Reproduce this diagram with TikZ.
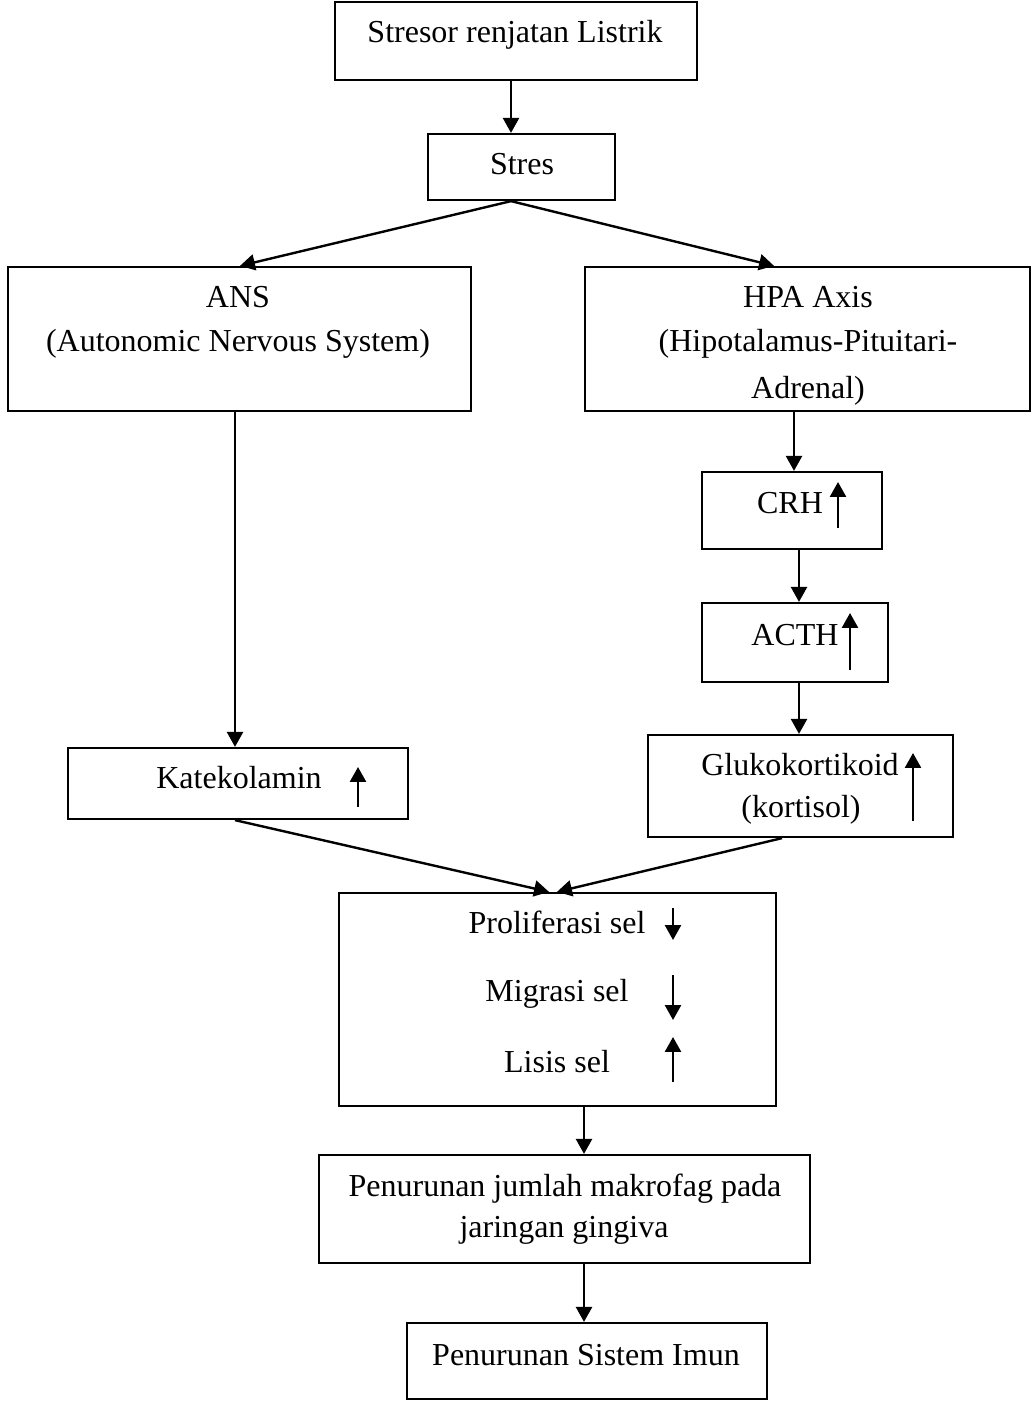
\documentclass[tikz,border=0pt]{standalone}
\usepackage{fontspec}
\setmainfont{Liberation Serif}
\usetikzlibrary{arrows.meta,fit}
\newlength\ux
\setlength\ux{0.375pt}
\begin{document}
\begin{tikzpicture}[x=0.375pt,y=-0.375pt,
  boxnode/.style={draw,line width=0.85pt,inner sep=0pt,rectangle},
  txt/.style={anchor=base,inner sep=0pt,font=\fontsize{12pt}{14pt}\selectfont},
  arr/.style={line width=0.9pt,-{Triangle[length=5.6pt,width=6pt]}},
  small/.style={line width=0.9pt,-{Triangle[length=5.6pt,width=6pt]}}]
\useasboundingbox (0,0) rectangle (1032,1401);
\fill[white] (0,0) rectangle (1032,1401);
% boxes
\node[boxnode,fit={(335,2) (697,80)}] (b1) {};
\node[boxnode,fit={(428,134) (615,200)}] (b2) {};
\node[boxnode,fit={(8,267) (471,411)}] (ans) {};
\node[boxnode,fit={(585,267) (1030,411)}] (hpa) {};
\node[boxnode,fit={(702,472) (882,549)}] (crh) {};
\node[boxnode,fit={(702,603) (888,682)}] (acth) {};
\node[boxnode,fit={(648,735) (953,837)}] (gluko) {};
\node[boxnode,fit={(68,748) (408,819)}] (kat) {};
\node[boxnode,fit={(339,893) (776,1106)}] (mid) {};
\node[boxnode,fit={(319,1155) (810,1263)}] (pen) {};
\node[boxnode,fit={(407,1323) (767,1399)}] (imun) {};
% texts
\node[txt] (t1) at (515,43) {Stresor renjatan Listrik};
\node[txt] (t2) at (522,175) {Stres};
\node[txt] (t3) at (238,308) {ANS};
\node[txt] (t4) at (238,351) {(Autonomic Nervous System)};
\node[txt] (t5) at (808,308) {HPA Axis};
\node[txt] (t6) at (808,351) {(Hipotalamus-Pituitari-};
\node[txt] (t7) at (808,398) {Adrenal)};
\node[txt] (t8) at (790,513) {CRH};
\node[txt] (t9) at (795,645) {ACTH};
\node[txt] (t10) at (800,775) {Glukokortikoid};
\node[txt] (t11) at (801,817) {(kortisol)};
\node[txt] (t12) at (239,788) {Katekolamin};
\node[txt] (t13) at (557,933) {Proliferasi sel};
\node[txt] (t14) at (557,1001) {Migrasi sel};
\node[txt] (t15) at (557,1072) {Lisis sel};
\node[txt] (t16) at (565,1196) {Penurunan jumlah makrofag pada};
\node[txt] (t17) at (564,1237) {jaringan gingiva};
\node[txt] (t18) at (586,1365) {Penurunan Sistem Imun};
% connectors
\draw[arr] ([xshift=-5\ux]b1.south) -- ([xshift=-10.5\ux]b2.north);
\draw[arr] ([xshift=-10.5\ux]b2.south) -- ([xshift=0.5\ux]ans.north);
\draw[arr] ([xshift=-10.5\ux]b2.south) -- ([xshift=-33.5\ux]hpa.north);
\draw[arr] ([xshift=-4.5\ux]ans.south) -- ([xshift=-3\ux]kat.north);
\draw[arr] ([xshift=-13.5\ux]hpa.south) -- ([xshift=2\ux]crh.north);
\draw[arr] ([xshift=7\ux]crh.south) -- ([xshift=4\ux]acth.north);
\draw[arr] ([xshift=4\ux]acth.south) -- ([xshift=-1.5\ux]gluko.north);
\draw[arr] ([xshift=-3\ux]kat.south) -- ([xshift=-8.5\ux]mid.north);
\draw[arr] ([xshift=-18.5\ux]gluko.south) -- ([xshift=-0.5\ux]mid.north);
\draw[arr] ([xshift=26.5\ux]mid.south) -- ([xshift=19.5\ux]pen.north);
\draw[arr] ([xshift=19.5\ux]pen.south) -- ([xshift=-3\ux]imun.north);
% up/down indicator arrows
\draw[small] (358,807) -- (358,767);
\draw[small] (838,528) -- (838,482);
\draw[small] (850,670) -- (850,613);
\draw[small] (913,821) -- (913,753);
\draw[small] (673,908) -- (673,940);
\draw[small] (673,975) -- (673,1020);
\draw[small] (673,1082) -- (673,1037);
\end{tikzpicture}
\end{document}
